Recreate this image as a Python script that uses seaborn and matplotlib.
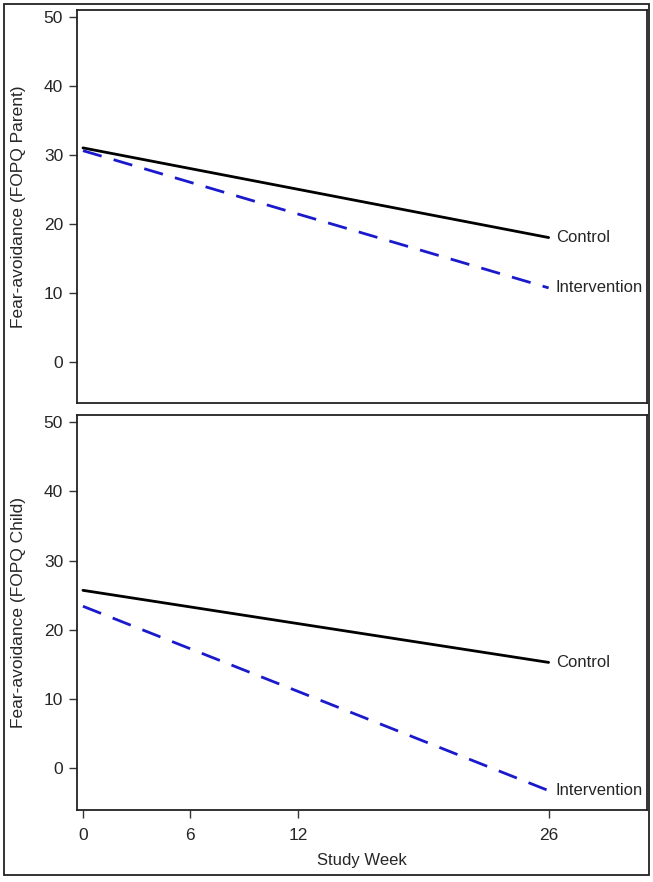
import matplotlib
matplotlib.use("Agg")
import matplotlib.pyplot as plt
import seaborn as sns
import pandas as pd

# data
weeks = [0, 26]
groups = ["Control", "Intervention"]
parent_control = [31.0, 18.0]
parent_intervention = [30.6, 10.7]
child_control = [25.7, 15.3]
child_intervention = [23.4, -3.2]
x_ticks = [0, 6, 12, 26]
y_ticks = [0, 10, 20, 30, 40, 50]

sns.set_style("ticks")
plt.rcParams['font.family'] = ['Liberation Sans', 'DejaVu Sans']


def make_df(ctrl, intv):
    return pd.DataFrame({
        'week': weeks * 2,
        'score': ctrl + intv,
        'group': [groups[0]] * len(weeks) + [groups[1]] * len(weeks),
    })


df_parent = make_df(parent_control, parent_intervention)
df_child = make_df(child_control, child_intervention)

fig = plt.figure(figsize=(6.53, 8.82), dpi=100)
ax1 = fig.add_axes([0.118, 0.543, 0.873, 0.4457])
ax2 = fig.add_axes([0.118, 0.0816, 0.873, 0.4479])

palette = {"Control": "black", "Intervention": "#1a1acc"}
dashes = {"Control": "", "Intervention": (7, 4.5)}

for ax, d, lab in [(ax1, df_parent, "Fear-avoidance (FOPQ Parent)"),
                   (ax2, df_child, "Fear-avoidance (FOPQ Child)")]:
    sns.lineplot(data=d, x='week', y='score', hue='group', style='group',
                 palette=palette, dashes=dashes, linewidth=2, legend=False, ax=ax)
    ax.set_xlim(-0.33, 31.5)
    ax.set_ylim(-6, 51)
    ax.set_yticks(y_ticks)
    ax.tick_params(axis='y', labelsize=12.5, length=6, width=1, color='#333333', pad=4)
    ax.set_ylabel(lab, fontsize=12.5, labelpad=13)
    for s in ax.spines.values():
        s.set_linewidth(1.3)
        s.set_color('#222222')
    # end labels
    for g in groups:
        sub = d[d['group'] == g]
        ax.text(sub['week'].iloc[-1] + 0.4, sub['score'].iloc[-1], g,
                fontsize=12, va='center', ha='left')

ax1.set_xticks([])
ax1.set_xlabel("")
ax2.set_xticks(x_ticks)
ax2.tick_params(axis='x', labelsize=12.5, length=6, width=1, color='#333333', pad=7)
ax2.set_xlabel("Study Week", fontsize=12, labelpad=7)

fig.patches.append(plt.Rectangle((0.006, 0.008), 0.988, 0.9875, transform=fig.transFigure,
                                 fill=False, edgecolor='#222222', linewidth=1.3))

fig.savefig("out.png", dpi=100)
